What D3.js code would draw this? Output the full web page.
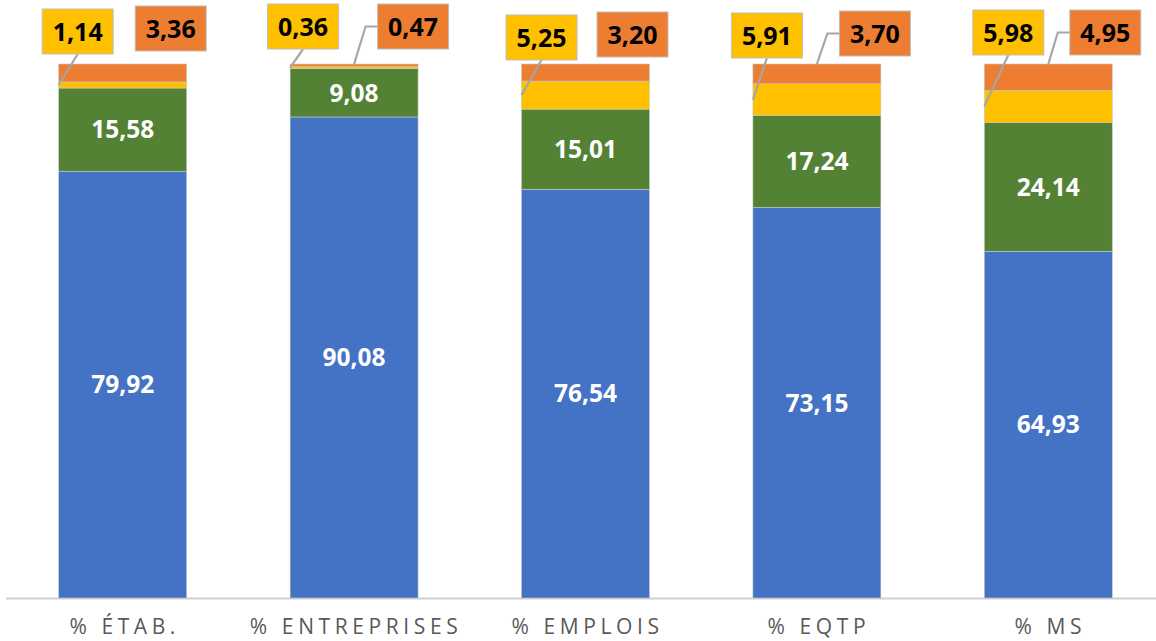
<!DOCTYPE html>
<html>
<head>
<meta charset="utf-8">
<script src="https://cdn.jsdelivr.net/npm/d3@7"></script>
<style>
  body { margin: 0; background: #fff; }
  svg { display: block; }
</style>
</head>
<body>
<div id="chart"></div>
<script>
// categories and the four stacked series (bottom to top)
var categories = ["% ÉTAB.", "% ENTREPRISES", "% EMPLOIS", "% EQTP", "% MS"];
var blueValues = [79.92, 90.08, 76.54, 73.15, 64.93];
var greenValues = [15.58, 9.08, 15.01, 17.24, 24.14];
var yellowValues = [1.14, 0.36, 5.25, 5.91, 5.98];
var orangeValues = [3.36, 0.47, 3.20, 3.70, 4.95];

var seriesKeys = ["blue", "green", "yellow", "orange"];
var colors = {blue: "#4472C4", green: "#548235", yellow: "#FFC000", orange: "#ED7D31"};

// callout nudges for the two thin segments (label layout only)
var yellowNudge = [-45, -51, -44, -50, -40];
var orangeNudge = [48, 59, 47, 58, 57];
var yellowTop = [9, 4, 15, 13, 10];
var orangeTop = [6, 4, 12, 11, 10];

var W = 1156, H = 641;
var svg = d3.select("#chart").append("svg").attr("width", W).attr("height", H);

var rows = categories.map(function(c, i) {
  return {cat: c, blue: blueValues[i], green: greenValues[i], yellow: yellowValues[i], orange: orangeValues[i], i: i};
});

var x = d3.scaleBand().domain(categories).range([7, 1164]).paddingInner(0.447).paddingOuter(0.2235);
var y = d3.scaleLinear().domain([0, 100]).range([598, 64]);

var stack = d3.stack().keys(seriesKeys)(rows);

// baseline
svg.append("line")
  .attr("x1", 6).attr("x2", W).attr("y1", 598.5).attr("y2", 598.5)
  .attr("stroke", "#cfcfcf").attr("stroke-width", 2);

svg.append("g").selectAll("g").data(stack).enter().append("g")
  .attr("fill", function(d) { return colors[d.key]; })
  .selectAll("rect").data(function(d) { return d; }).enter().append("rect")
    .attr("x", function(d) { return x(d.data.cat); })
    .attr("width", x.bandwidth())
    .attr("y", function(d) { return y(d[1]); })
    .attr("height", function(d) { return y(d[0]) - y(d[1]); })
    .attr("stroke", "#c8c8c8").attr("stroke-width", 0.6);

var fmt = function(v) { return v.toFixed(2).replace(".", ","); };

// inside labels for blue and green
[stack[0], stack[1]].forEach(function(s) {
  svg.append("g").selectAll("text").data(s).enter().append("text")
    .attr("x", function(d) { return x(d.data.cat) + x.bandwidth() / 2; })
    .attr("y", function(d) { return (y(d[0]) + y(d[1])) / 2; })
    .attr("dy", "0.36em")
    .attr("text-anchor", "middle")
    .attr("fill", "#fff")
    .style("font", "bold 24.5px 'Open Sans', sans-serif")
    .text(function(d) { return fmt(d.data[s.key]); });
});

var boxW = 71, boxH = 45;
var leaders = svg.append("g").attr("fill", "none").attr("stroke", "#a6a6a6").attr("stroke-width", 2.2);
var boxes = svg.append("g");

rows.forEach(function(r, i) {
  var cx = x(r.cat) + x.bandwidth() / 2;
  var left = x(r.cat);
  var ys = stack[2][i];
  // yellow callout
  var yx = cx + yellowNudge[i], yt = yellowTop[i];
  leaders.append("path")
    .attr("d", d3.line()([[yx, yt + boxH], [left, (y(ys[0]) + y(ys[1])) / 2]]));
  // orange callout
  var ox = cx + orangeNudge[i], ot = orangeTop[i];
  if (orangeNudge[i] > 50) {
    var bx = ox - boxW / 2, my = ot + boxH / 2;
    leaders.append("path")
      .attr("d", d3.line()([[bx, my], [bx - 12, my], [cx, y(100)]]));
  }
  [[yx, yt, colors.yellow, r.yellow], [ox, ot, colors.orange, r.orange]].forEach(function(b) {
    boxes.append("rect")
      .attr("x", b[0] - boxW / 2).attr("y", b[1])
      .attr("width", boxW).attr("height", boxH)
      .attr("fill", b[2]).attr("stroke", "#bfbfbf").attr("stroke-width", 1);
    boxes.append("text")
      .attr("x", b[0]).attr("y", b[1] + boxH / 2)
      .attr("dy", "0.36em").attr("text-anchor", "middle")
      .attr("fill", "#000")
      .style("font", "bold 25px 'Open Sans', sans-serif")
      .text(fmt(b[3]));
  });
});

// category axis labels
svg.append("g").selectAll("text").data(categories).enter().append("text")
  .attr("x", function(d) { return x(d) + x.bandwidth() / 2 + 2; })
  .attr("y", 634)
  .attr("text-anchor", "middle")
  .attr("fill", "#595959")
  .style("font", "21px 'Open Sans', sans-serif")
  .style("letter-spacing", "4.6px")
  .text(function(d) { return d; });
</script>
</body>
</html>
